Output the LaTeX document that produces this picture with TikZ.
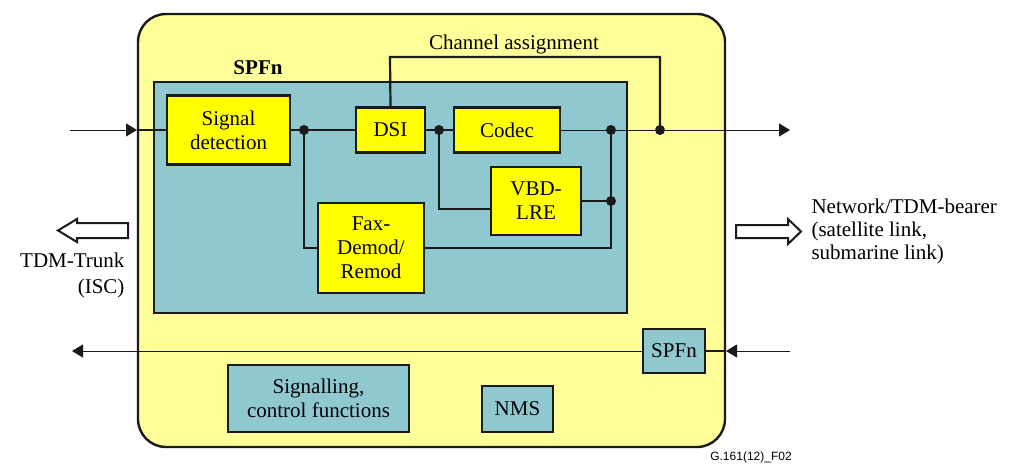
\documentclass[tikz,border=0pt]{standalone}
\usepackage{fontspec}
\setmainfont{LiberationSerif-Regular.ttf}[BoldFont=LiberationSerif-Bold.ttf,ItalicFont=LiberationSerif-Italic.ttf]
\newfontfamily\labelsans{Liberation Sans}
\usetikzlibrary{arrows.meta}
\definecolor{outerY}{HTML}{FFFF99}
\definecolor{tealF}{HTML}{8FC8CF}
\definecolor{boxY}{HTML}{FFFF00}
\definecolor{lineK}{HTML}{1A1A1A}
\begin{document}
\begin{tikzpicture}[x=1pt,y=-1pt,
  font=\rmfamily\fontsize{21}{24}\selectfont,
  ybox/.style={draw=lineK, line width=2.4pt, fill=boxY, align=center, inner sep=0pt},
  tbox/.style={draw=lineK, line width=2.4pt, fill=tealF, align=center, inner sep=0pt},
  sig/.style={draw=lineK, line width=2.2pt},
  ext/.style={draw=lineK, line width=1pt},
  dotn/.style={circle, fill=lineK, inner sep=0pt, minimum size=10pt},
  tipA/.style={-{Triangle[length=11pt,width=13pt]}},
  hollow/.style={draw=lineK, line width=2pt, fill=white, line join=miter}
]
\useasboundingbox (0,0) rectangle (1010,466);
% outer container
\draw[fill=outerY, draw=lineK, line width=2.4pt, rounded corners=28pt] (138,14) rectangle (725,447);
% inner SPFn block
\node[tbox, minimum width=473pt, minimum height=231pt] (spf) at (390.5,197.5) {};
\node[font=\rmfamily\bfseries\fontsize{21}{24}\selectfont] (spflab) at (258,68) {SPFn};

% boxes
\node[ybox, minimum width=123pt, minimum height=69pt] (sd) at (228.5,130) {Signal\\detection};
\node[ybox, minimum width=69pt, minimum height=45pt] (dsi) at (390.5,130) {DSI};
\node[ybox, minimum width=106pt, minimum height=45pt] (codec) at (507,130) {Codec};
\node[ybox, minimum width=90pt, minimum height=68pt] (vbd) at (536,201) {VBD-\\LRE};
\node[ybox, minimum width=106pt, minimum height=90pt] (fax) at (371,248) {Fax-\\Demod/\\Remod};

\node[tbox, minimum width=62pt, minimum height=44pt] (spfs) at (674,351) {SPFn};
\node[tbox, minimum width=181pt, minimum height=67pt] (sigc) at (318.5,398.5) {Signalling,\\control functions};
\node[tbox, minimum width=71pt, minimum height=46pt] (nms) at (517.5,409) {NMS};

% coordinates
\coordinate (inL) at (70,130);
\coordinate (inB) at (137,130);
\coordinate (outR) at (790,130);
\coordinate (d1) at (304,130);
\coordinate (d2) at (439,130);
\coordinate (d3) at (611,130);
\coordinate (d4) at (611,201);
\coordinate (d5) at (660,130);
\coordinate (ca1) at (390,57);
\coordinate (ca2) at (660,57);
\coordinate (bR) at (790,351);
\coordinate (bB) at (726,351);
\coordinate (bL) at (72,351);

% main path
\draw[ext, tipA] (inL) -- (inB);
\draw[sig] (inB) -- (sd.west);
\draw[sig] (sd.east) -- (dsi.west);
\draw[sig] (dsi.east) -- (codec.west);
\draw[sig] (d1) |- (fax.west);
\draw[sig] (d2) |- ([yshift=-8pt]vbd.west);
\draw[sig] (vbd.east) -- (d4);
\draw[sig] (fax.east) -| (d3);
\draw[ext, tipA] (codec.east) -- (outR);
\draw[sig] (dsi.north) -- (ca1) -- (ca2) -- (d5);

\node[dotn] at (d1) {};
\node[dotn] at (d2) {};
\node[dotn] at (d3) {};
\node[dotn] at (d4) {};
\node[dotn] at (d5) {};

\node (calab) at (514,44) {Channel assignment};

% bottom path
\draw[ext, tipA] (bR) -- (bB);
\draw[sig] (bB) -- (spfs.east);
\draw[ext, tipA] (spfs.west) -- (bL);

% hollow arrows
\draw[hollow] (128,223) -- (77,223) -- (77,219) -- (58,230.5) -- (77,242) -- (77,238) -- (128,238) -- cycle;
\draw[hollow] (736,225) -- (788,225) -- (788,219) -- (801,231.5) -- (788,244) -- (788,238) -- (736,238) -- cycle;

\node[align=right, anchor=east, font=\rmfamily\fontsize{21}{26}\selectfont] (tdm) at (128,275) {TDM-Trunk\\(ISC)};
\node[align=left, anchor=west, font=\rmfamily\fontsize{21}{23}\selectfont] (net) at (808,231) {Network/TDM-bearer\\(satellite link,\\submarine link)};

\node[font=\labelsans\fontsize{12}{14}\selectfont] (fig) at (751,457) {G.161(12)\_F02};
\end{tikzpicture}
\end{document}
